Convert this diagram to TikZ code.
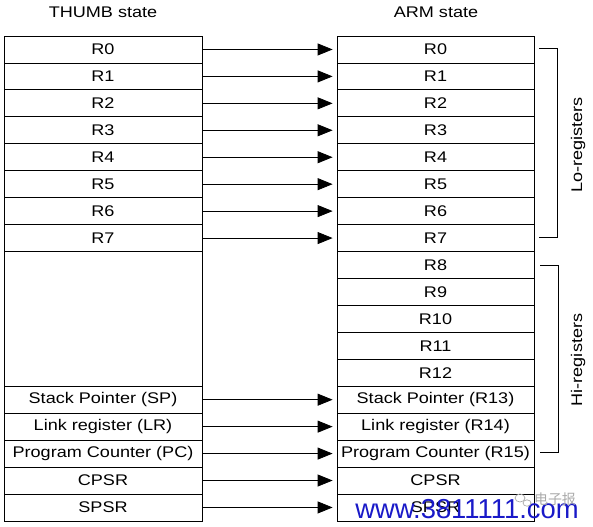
\documentclass[tikz,border=0pt]{standalone}
\usepackage{fontspec}
\setmainfont{Liberation Sans}[FakeStretch=1.17]
\newfontfamily\wmfont{Liberation Sans}
\newfontfamily\cjkfont{Noto Sans CJK SC}
\usetikzlibrary{arrows.meta,calc}
\definecolor{wmblue}{RGB}{25,25,200}
\definecolor{wmgray}{RGB}{170,170,170}
\begin{document}
\begin{tikzpicture}[x=1bp,y=-1bp,
  every node/.style={font=\fontsize{15.5}{18}\selectfont},
  regL/.style={draw=black,line width=0.8bp,minimum width=198bp,minimum height=26.94bp,inner sep=0pt,anchor=center},
  regR/.style={draw=black,line width=0.8bp,minimum width=197bp,minimum height=26.94bp,inner sep=0pt,anchor=center},
  arr/.style={line width=0.8bp,-{Triangle[length=15bp,width=12bp]},shorten >=4bp},
  brk/.style={line width=0.8bp}]
\useasboundingbox (0,0) rectangle (593,527);
\def\h{26.94}
% headers
\node (hT) at (103,12) {THUMB state};
\node (hA) at (436,12) {ARM state};
% left column
\foreach \i in {0,...,7} {
  \node[regL] (L\i) at (103,{36+\h*(\i+0.5)}) {R\i};
}
\node[regL,minimum height={5*\h*1bp}] (Lempty) at (103,{36+\h*10.5}) {};
\node[regL] (LSP) at (103,{36+\h*13.5}) {Stack Pointer (SP)};
\node[regL] (LLR) at (103,{36+\h*14.5}) {Link register (LR)};
\node[regL] (LPC) at (103,{36+\h*15.5}) {Program Counter (PC)};
\node[regL] (LCPSR) at (103,{36+\h*16.5}) {CPSR};
\node[regL] (LSPSR) at (103,{36+\h*17.5}) {SPSR};
% right column
\foreach \i in {0,...,12} {
  \node[regR] (A\i) at (435.5,{36+\h*(\i+0.5)}) {R\i};
}
\node[regR] (A13) at (435.5,{36+\h*13.5}) {Stack Pointer (R13)};
\node[regR] (A14) at (435.5,{36+\h*14.5}) {Link register (R14)};
\node[regR] (A15) at (435.5,{36+\h*15.5}) {Program Counter (R15)};
\node[regR] (ACPSR) at (435.5,{36+\h*16.5}) {CPSR};
\node[regR] (ASPSR) at (435.5,{36+\h*17.5}) {SPSR};
% arrows
\foreach \i in {0,...,7} {
  \draw[arr] (L\i.east) -- (A\i.west);
}
\draw[arr] (LSP.east) -- (A13.west);
\draw[arr] (LLR.east) -- (A14.west);
\draw[arr] (LPC.east) -- (A15.west);
\draw[arr] (LCPSR.east) -- (ACPSR.west);
\draw[arr] (LSPSR.east) -- (ASPSR.west);
% brackets
\draw[brk] ($(A0.east)+(5,-1)$) -- ++(18,0) |- ($(A7.east)+(5,-1)$);
\draw[brk] ($(A8.east)+(6,0)$) -- ++(18,0) |- ($(A15.east)+(6,-1)$);
\node[rotate=90] (lo) at (578,145) {Lo-registers};
\node[rotate=90] (hi) at (578,360) {Hi-registers};
% watermark
\node[anchor=base,font=\wmfont\fontsize{27.5}{30}\selectfont,text=wmblue,inner sep=0pt] (wm) at (467,518) {www.3811111.com};
\node[font=\cjkfont\fontsize{14}{15}\selectfont,text=wmgray,inner sep=0pt] (cn) at (555,499) {电子报};
\draw[wmgray,line width=0.7bp] (520,498) ellipse (5bp and 4bp);
\draw[wmgray,line width=0.7bp] (527,503) ellipse (4bp and 3.2bp);
\end{tikzpicture}
\end{document}
